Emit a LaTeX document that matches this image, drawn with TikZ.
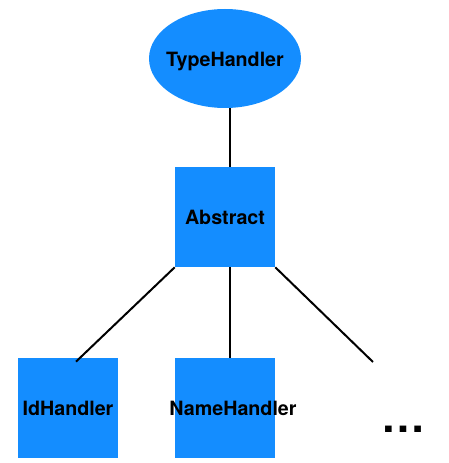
\documentclass[tikz,border=0pt]{standalone}
\usepackage{fontspec}
\setmainfont{TeX Gyre Heros}
\usepackage{xcolor}
\usetikzlibrary{shapes.geometric,positioning,calc}
\definecolor{handlercolor}{RGB}{20,141,255}

\begin{document}
\begin{tikzpicture}[
  root/.style={ellipse,draw=none,fill=handlercolor,minimum width=3.04cm,minimum height=1.98cm,
               inner sep=0pt},
  handler/.style={rectangle,draw=none,fill=handlercolor,minimum size=2cm,
                  inner sep=0pt,text depth=0pt,font=\fontsize{11.2}{13}\selectfont\bfseries},
  htext/.style={draw=none,fill=none,inner sep=0pt,text depth=0pt,font=\fontsize{11.2}{13}\selectfont\bfseries},
  etcdots/.style={draw=none,fill=none,inner sep=0pt,font=\fontsize{25}{30}\selectfont\bfseries},
  edge/.style={black,line width=0.04cm}]
\useasboundingbox (0,0) rectangle (8.98,9.26);
\node[root,label={[htext,yshift=-0.02cm]center:TypeHandler}] (th) at (4.50,8.09) {};
\node[handler] (abs) at (4.50,4.92) {Abstract};
\node[handler] (id) at (1.36,1.10) {IdHandler};
\node[handler,label={[htext,xshift=0.16cm]center:NameHandler}] (nm) at (4.50,1.10) {};
\coordinate (more) at (7.46,2.02);
\node[etcdots] (etc) at (8.07,0.68) {…};
\draw[edge] ([xshift=0.1cm]th.south) -- ([xshift=0.1cm]abs.north);
\draw[edge] (abs.south west) -- ([xshift=0.16cm,yshift=-0.08cm]id.north);
\draw[edge] ([xshift=0.1cm]abs.south) -- ([xshift=0.1cm]nm.north);
\draw[edge] (abs.south east) -- (more);
\end{tikzpicture}
\end{document}
